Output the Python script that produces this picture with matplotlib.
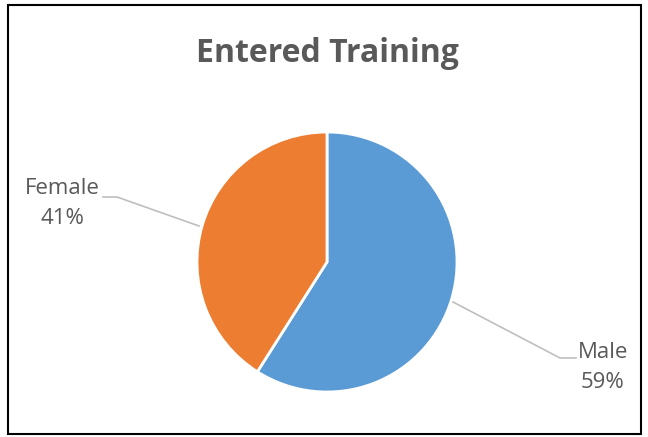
import matplotlib
matplotlib.use("Agg")
import matplotlib.pyplot as plt
from matplotlib.patches import Rectangle

title = "Entered Training"
categories = ["Male", "Female"]
shares = [59, 41]
colors = ["#5B9BD5", "#ED7D31"]

W, H = 648, 437
fig = plt.figure(figsize=(W / 100, H / 100), dpi=100)
ax = fig.add_axes([0, 0, 1, 1])
ax.set_xlim(0, W)
ax.set_ylim(0, H)
ax.set_aspect("equal")
ax.axis("off")

def Y(py):
    return H - py

cx, cy, r = 327, Y(262), 130
ax.pie(shares, colors=colors, startangle=90, counterclock=False,
       center=(cx, cy), radius=r, frame=True,
       wedgeprops=dict(edgecolor="white", linewidth=2))
ax.set_xlim(0, W)
ax.set_ylim(0, H)
ax.axis("off")

# border
fig.patches.append(Rectangle((8 / W, 3 / H), 633 / W, 429 / H, transform=fig.transFigure,
                             fill=False, edgecolor="black", linewidth=1.5))

ax.text(cx, Y(53), title, ha="center", va="center", fontsize=23,
        fontweight="bold", color="#595959", family="Open Sans")

labcol = "#595959"
fam = "Open Sans"
fs = 16
ax.text(62, Y(188), categories[1], ha="center", va="center", fontsize=fs, color=labcol, family=fam)
ax.text(62, Y(218), f"{shares[1]}%", ha="center", va="center", fontsize=fs, color=labcol, family=fam)
ax.text(603, Y(352), categories[0], ha="center", va="center", fontsize=fs, color=labcol, family=fam)
ax.text(603, Y(382), f"{shares[0]}%", ha="center", va="center", fontsize=fs, color=labcol, family=fam)

lc = "#BFBFBF"
ax.plot([103, 117, 199], [Y(197), Y(197), Y(226)], color=lc, linewidth=1.2)
ax.plot([453, 560, 576], [Y(302), Y(358), Y(358)], color=lc, linewidth=1.2)

fig.savefig("out.png", dpi=100, facecolor="white")
